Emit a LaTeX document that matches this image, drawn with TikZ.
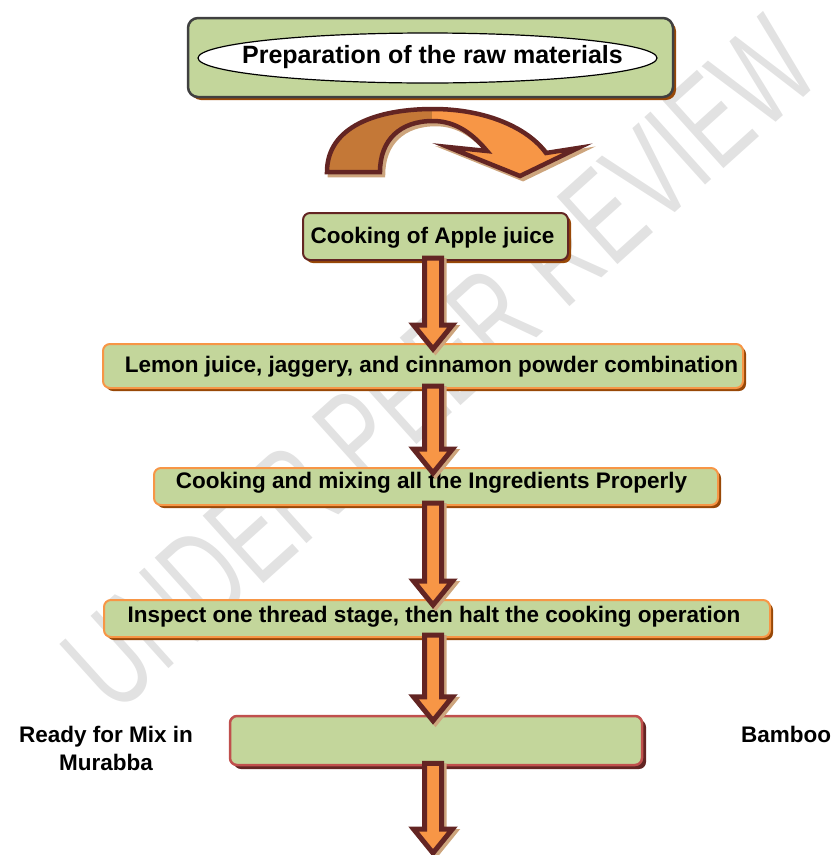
\documentclass[tikz,border=0pt]{standalone}
\usepackage{fontspec}
\setmainfont{Liberation Sans}
\usetikzlibrary{calc,shadows,shapes.geometric}

\definecolor{boxgreen}{RGB}{195,214,155}
\definecolor{arrowline}{RGB}{99,37,35}
\definecolor{arrowlight}{RGB}{247,150,70}
\definecolor{arrowdark}{RGB}{196,120,55}
\definecolor{shadebrown}{RGB}{152,72,7}
\definecolor{redline}{RGB}{192,80,77}
\definecolor{tanshadow}{RGB}{205,165,125}
\definecolor{wmgray}{RGB}{226,226,226}
\definecolor{framegray}{RGB}{64,64,64}

\tikzset{
 stepbox/.style={rectangle, rounded corners=7pt, fill=boxgreen, line width=2pt, inner sep=0pt,
   drop shadow={shadow xshift=3pt, shadow yshift=-3pt, fill=shadebrown, opacity=1}},
 steptext/.style={anchor=base, inner sep=0pt, font=\bfseries\fontsize{22.5}{28}\selectfont},
 blockarrow/.style={draw=arrowline, fill=arrowlight, line width=5pt, line join=miter, miter limit=10,
   preaction={draw=tanshadow, fill=tanshadow, line width=5pt, transform canvas={shift={(2.5pt,-2.5pt)}}}},
}

% straight block arrow from #1 down to #2
\newcommand{\flowarrow}[2]{%
\draw[blockarrow] let \p1=($(#1)+(0,-3)$), \p2=($(#2)+(0,6)$) in
  (\x1-8.5pt,\y1) -- (\x1-8.5pt,\y2+24pt) -- (\x1-19.5pt,\y2+24pt) -- (\x1,\y2)
  -- (\x1+19.5pt,\y2+24pt) -- (\x1+8.5pt,\y2+24pt) -- (\x1+8.5pt,\y1) -- cycle;}

\def\turnpath{(327,172) .. controls (327,126) and (378,109) .. (433,109) .. controls (486,109) and (528,128) .. (546,153) -- (578,148) -- (520,176) -- (448,147) -- (487,151) .. controls (472,133) and (455,121) .. (433,121) .. controls (400,121) and (380,140) .. (380,172) -- cycle}

\begin{document}
\begin{tikzpicture}[x=1pt,y=-1pt]
\useasboundingbox (0,0) rectangle (833,855);

%watermark
\node[rotate=42, text=wmgray, inner sep=0pt] (watermark) at (440,364) {\fontsize{132}{132}\selectfont\scalebox{0.67}[1]{UNDER PEER REVIEW}};

\node[stepbox, draw=framegray, line width=2.5pt, rounded corners=10pt, minimum width=485pt, minimum height=79pt] (prep) at (430.5,57.5) {};
\node[ellipse, draw, fill=white, line width=1.2pt, minimum width=459pt, minimum height=50pt, inner sep=0pt] (prepoval) at (427.5,58) {};
\node[steptext, font=\bfseries\fontsize{25}{30}\selectfont] (preptxt) at (432.5,63) {Preparation of the raw materials};

% curved arrow
\fill[tanshadow, transform canvas={shift={(3pt,-3pt)}}] \turnpath;
\draw[tanshadow, line width=4.5pt, line join=miter, transform canvas={shift={(3pt,-3pt)}}] \turnpath;
\fill[arrowlight] \turnpath;
\begin{scope}
\clip \turnpath;
\fill[arrowdark] (300,100) rectangle (432,180);
\end{scope}
\draw[arrowline, line width=4.5pt, line join=miter] \turnpath;

\node[stepbox, draw=arrowline, minimum width=265pt, minimum height=47pt] (cook) at (435.5,236.5) {};
\node[steptext] (cooktxt) at (432.5,243) {Cooking of Apple juice};

\node[stepbox, draw=arrowlight, minimum width=640pt, minimum height=44pt] (lemon) at (423,366) {};
\node[steptext] (lemontxt) at (431.5,372) {Lemon juice, jaggery, and cinnamon powder combination};

\node[stepbox, draw=arrowlight, minimum width=564pt, minimum height=37pt] (mix) at (436,486.5) {};
\node[steptext] (mixtxt) at (431.5,488) {Cooking and mixing all the Ingredients Properly};

\node[stepbox, draw=arrowlight, minimum width=666pt, minimum height=37pt] (inspect) at (437,618.5) {};
\node[steptext] (inspecttxt) at (434,622) {Inspect one thread stage, then halt the cooking operation};

\node[stepbox, draw=redline, line width=2.5pt, minimum width=412pt, minimum height=49pt,
  drop shadow={shadow xshift=4pt, shadow yshift=-4pt, fill=arrowline, opacity=1}] (ready) at (436,740.5) {};

\node[steptext] (readytxt) at (106,742) {Ready for Mix in};
\node[steptext] (murabbatxt) at (106,770) {Murabba};
\node[steptext] (bambootxt) at (786,742) {Bamboo};

\coordinate (axis) at (433,0);
\coordinate (endtip) at (433,847);

\flowarrow{cook.south -| axis}{lemon.north -| axis}
\flowarrow{lemon.south -| axis}{mix.north -| axis}
\flowarrow{mix.south -| axis}{inspect.north -| axis}
\flowarrow{inspect.south -| axis}{ready.north -| axis}
\flowarrow{ready.south -| axis}{endtip}
\end{tikzpicture}
\end{document}
